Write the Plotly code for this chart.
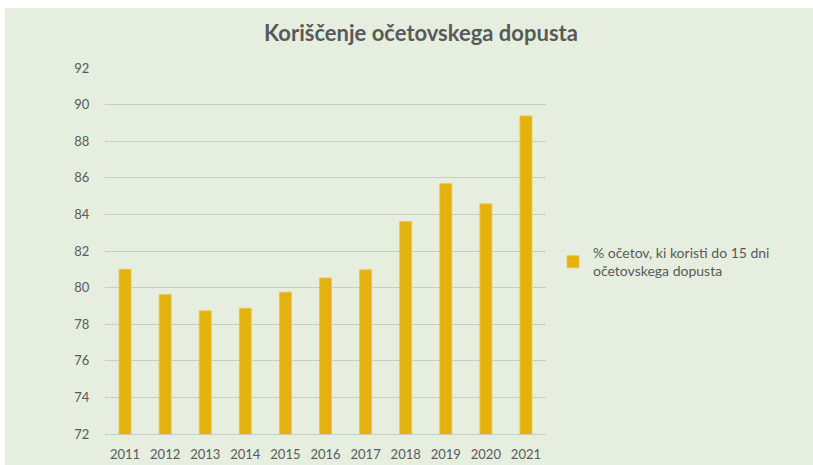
import plotly.graph_objects as go

years = ["2011", "2012", "2013", "2014", "2015", "2016", "2017", "2018", "2019", "2020", "2021"]
share = [81.0, 79.62, 78.73, 78.87, 79.75, 80.53, 80.97, 83.61, 85.68, 84.58, 89.38]
series_name = "% očetov, ki koristi do 15 dni<br>očetovskega dopusta"
title_text = "Koriščenje očetovskega dopusta"

BG = "#E6EFDF"
BAR = "#E3B20F"
TXT = "#595959"
FONT = "Lato"

# figure is placed at (5, 8) in the page
W, H = 808, 457
L, R, T, B = 100, 541, 60, 426  # plot area in figure pixels
PW, PH = R - L, B - T

fig = go.Figure()
fig.add_trace(go.Bar(
    x=years, y=share, name=series_name,
    marker=dict(color=BAR, line=dict(color="#EAC64A", width=0.8)),
    showlegend=True,
))

fig.update_layout(
    width=W, height=H,
    margin=dict(l=L, r=W - R, t=T, b=H - B, autoexpand=False),
    paper_bgcolor=BG,
    plot_bgcolor="rgba(0,0,0,0)",
    bargap=0.7,
    font=dict(family=FONT, size=13, color=TXT),
    title=dict(text="<b>" + title_text + "</b>", x=416 / W, xanchor="center",
               y=1 - 25 / H, yanchor="middle",
               font=dict(family=FONT, size=22, color=TXT)),
    showlegend=True,
    legend=dict(x=(548 - L) / PW, xanchor="left", y=(B - 254) / PH, yanchor="middle",
                bgcolor="rgba(0,0,0,0)", font=dict(family=FONT, size=14, color=TXT),
                itemclick=False),
    xaxis=dict(showgrid=False, showline=True, linecolor="#C9CCC4", linewidth=1.2,
               automargin=False,
               ticks="outside", ticklen=8, tickcolor="rgba(0,0,0,0)",
               tickfont=dict(family=FONT, size=13, color=TXT)),
    yaxis=dict(range=[72, 92], dtick=2, tick0=72, showgrid=True, gridcolor="#C9CCC4",
               gridwidth=1.2, zeroline=False, showline=False, automargin=False,
               ticks="outside", ticklen=12, tickcolor="rgba(0,0,0,0)",
               tickfont=dict(family=FONT, size=13, color=TXT)),
)

post = (
    "document.documentElement.style.overflow='hidden';"
    "document.body.style.overflow='hidden';"
    "document.body.style.margin='8px 0 0 5px';"
    "document.body.style.background='white';"
)

fig.write_html("out.html", post_script=post)
